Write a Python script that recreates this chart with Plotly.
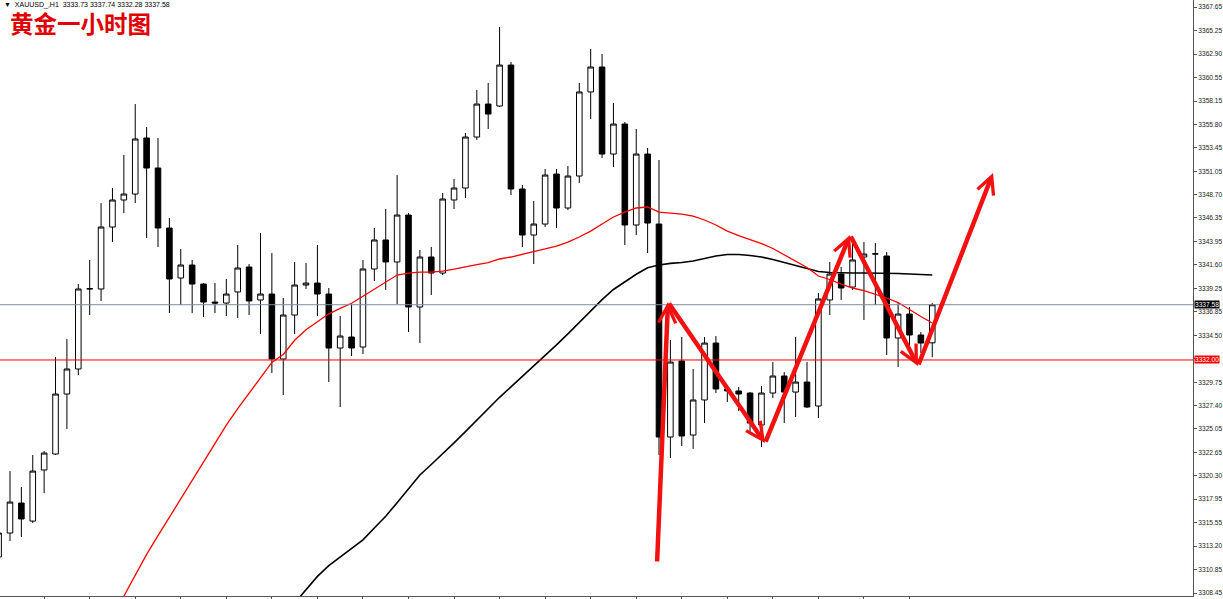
import plotly.graph_objects as go

# ---------------- data ----------------
idx = list(range(83))
open_ = [3312.10, 3314.52, 3317.55, 3315.73, 3320.89, 3322.50, 3328.56, 3331.09, 3339.17, 3339.17,
         3345.43, 3348.16, 3348.76, 3354.42, 3351.39, 3345.33, 3340.28, 3341.59, 3339.67, 3337.85,
         3337.75, 3338.87, 3341.39, 3338.06, 3338.66, 3332.10, 3336.54, 3339.57, 3339.77, 3338.66,
         3333.21, 3334.32, 3333.31, 3341.19, 3344.12, 3341.90, 3346.64, 3337.35, 3342.40, 3340.78,
         3348.16, 3349.37, 3354.52, 3357.85, 3357.65, 3361.79, 3349.27, 3344.62, 3345.73, 3350.78,
         3347.35, 3350.58, 3359.07, 3361.59, 3352.80, 3355.83, 3345.63, 3352.80, 3345.73, 3324.22,
         3331.90, 3324.42, 3327.96, 3333.71, 3329.07, 3328.87, 3328.66, 3325.43, 3328.66, 3330.38,
         3328.76, 3329.77, 3327.35, 3338.06, 3340.68, 3339.37, 3342.40, 3342.70, 3342.50, 3334.22,
         3336.64, 3334.52, 3333.73]
high = [3314.72, 3320.78, 3319.17, 3322.40, 3322.80, 3332.30, 3334.12, 3339.67, 3342.10, 3347.85,
        3349.37, 3352.70, 3357.85, 3355.53, 3354.42, 3346.34, 3343.21, 3342.10, 3339.77, 3339.77,
        3340.18, 3343.61, 3341.69, 3344.82, 3342.80, 3338.26, 3341.90, 3341.80, 3343.61, 3339.27,
        3336.44, 3337.65, 3342.10, 3345.33, 3347.25, 3350.68, 3346.84, 3343.11, 3343.41, 3348.87,
        3350.28, 3354.93, 3359.27, 3359.98, 3365.63, 3362.10, 3349.67, 3348.06, 3351.29, 3351.29,
        3351.59, 3359.98, 3363.41, 3362.91, 3357.96, 3356.04, 3355.33, 3353.41, 3352.20, 3334.02,
        3334.32, 3331.09, 3334.32, 3334.42, 3329.47, 3329.27, 3328.76, 3329.37, 3331.79, 3330.78,
        3334.32, 3331.79, 3338.76, 3341.90, 3341.39, 3344.32, 3343.92, 3343.81, 3342.91, 3337.75,
        3337.35, 3334.82, 3337.74]
low = [3311.79, 3313.71, 3314.12, 3315.53, 3318.56, 3322.40, 3325.03, 3330.48, 3336.54, 3337.96,
       3343.92, 3346.84, 3347.85, 3344.32, 3343.41, 3336.74, 3337.55, 3336.74, 3336.34, 3336.74,
       3336.44, 3336.24, 3336.54, 3334.62, 3330.68, 3328.46, 3334.62, 3339.17, 3336.44, 3329.77,
       3327.25, 3332.40, 3332.60, 3339.98, 3339.07, 3337.65, 3334.82, 3333.71, 3338.56, 3340.58,
       3347.25, 3348.36, 3354.22, 3355.33, 3357.55, 3348.66, 3343.41, 3341.69, 3345.43, 3345.33,
       3347.15, 3349.88, 3356.34, 3352.40, 3351.49, 3343.61, 3344.62, 3342.80, 3322.40, 3322.10,
       3323.31, 3323.01, 3325.63, 3328.66, 3327.75, 3326.84, 3324.62, 3323.21, 3328.16, 3325.63,
       3326.24, 3327.15, 3326.14, 3336.54, 3338.06, 3339.07, 3336.04, 3337.55, 3332.50, 3331.29,
       3332.80, 3332.70, 3332.28]
close = [3314.52, 3317.65, 3315.94, 3320.78, 3322.60, 3328.56, 3331.09, 3339.17, 3339.20, 3345.43,
         3348.16, 3348.76, 3354.32, 3351.39, 3345.33, 3340.18, 3341.59, 3339.67, 3337.85, 3337.75,
         3338.66, 3341.29, 3337.96, 3338.66, 3332.10, 3336.54, 3339.57, 3339.77, 3338.66, 3333.21,
         3334.42, 3333.21, 3341.19, 3344.12, 3341.90, 3346.64, 3337.35, 3342.40, 3340.78, 3348.26,
         3349.37, 3354.52, 3357.85, 3356.84, 3361.79, 3349.27, 3344.62, 3345.73, 3350.68, 3347.35,
         3350.58, 3359.07, 3361.59, 3352.80, 3355.83, 3345.63, 3352.80, 3345.83, 3324.22, 3331.79,
         3324.32, 3327.96, 3333.71, 3329.07, 3328.87, 3328.56, 3325.63, 3328.66, 3330.38, 3328.76,
         3329.77, 3327.25, 3338.16, 3340.68, 3339.27, 3342.10, 3342.70, 3342.72, 3334.22, 3336.64,
         3334.52, 3333.71, 3337.58]

ma_red_idx = list(range(10, 83))
ma_red = [3306.03, 3308.16, 3310.32, 3312.37, 3314.25, 3316.11, 3317.97, 3319.84, 3321.71, 3323.57,
          3325.42, 3327.09, 3328.66, 3330.15, 3331.75, 3332.55, 3333.99, 3335.05, 3335.84, 3336.66,
          3337.21, 3337.73, 3338.44, 3339.16, 3339.87, 3340.58, 3340.78, 3340.88, 3340.88, 3340.98,
          3341.18, 3341.44, 3341.64, 3341.84, 3342.20, 3342.40, 3342.65, 3342.95, 3343.21, 3343.51,
          3343.91, 3344.42, 3345.02, 3345.73, 3346.44, 3346.94, 3347.35, 3347.45, 3346.94, 3346.84,
          3346.74, 3346.54, 3346.14, 3345.63, 3345.02, 3344.57, 3344.17, 3343.76, 3343.26, 3342.60,
          3341.94, 3341.34, 3340.48, 3340.13, 3339.67, 3339.27, 3339.01, 3338.66, 3338.26, 3337.80,
          3337.05, 3336.39, 3335.73]
ma_black_idx = list(range(26, 83))
ma_black = [3307.45, 3308.78, 3310.14, 3311.22, 3312.07, 3312.91, 3313.83, 3315.03, 3316.22, 3317.59,
            3318.99, 3320.38, 3321.44, 3322.50, 3323.62, 3324.77, 3325.93, 3327.08, 3328.23, 3329.28,
            3330.33, 3331.39, 3332.41, 3333.53, 3334.64, 3335.80, 3337.02, 3338.09, 3339.12, 3339.93,
            3340.66, 3341.31, 3341.59, 3341.76, 3341.84, 3342.00, 3342.25, 3342.50, 3342.65, 3342.65,
            3342.55, 3342.40, 3342.15, 3341.84, 3341.59, 3341.29, 3340.94, 3340.83, 3340.78, 3340.78,
            3340.78, 3340.78, 3340.78, 3340.73, 3340.68, 3340.63, 3340.58]

last_price = 3337.58
level_price = 3332.00

arrow_x = [57.83, 58.79, 67.31, 74.78, 80.75, 87.34]
arrow_y = [3311.49, 3337.85, 3323.61, 3344.62, 3331.39, 3350.89]

ytick_vals = [3367.65, 3365.25, 3362.90, 3360.55, 3358.15, 3355.80, 3353.45, 3351.05, 3348.70,
              3346.35, 3343.95, 3341.60, 3339.25, 3336.85, 3334.50, 3332.15, 3329.75, 3327.40,
              3325.05, 3322.65, 3320.30, 3317.95, 3315.55, 3313.20, 3310.85, 3308.45]
ytick_text = ["" if v == 3332.15 else f"{v:.2f}" for v in ytick_vals]
xtick_vals = list(range(4, 83, 4))

header = "▼  XAUUSD_,H1  3333.73 3337.74 3332.28 3337.58"
title_cn = "黄金一小时图"

# ---------------- figure ----------------
fig = go.Figure()

fig.add_trace(go.Scatter(x=ma_black_idx, y=ma_black, mode="lines",
                         line=dict(color="black", width=1.6), hoverinfo="skip"))
fig.add_trace(go.Scatter(x=ma_red_idx, y=ma_red, mode="lines",
                         line=dict(color="#ff0000", width=1.3), hoverinfo="skip"))

fig.add_hline(y=last_price, line=dict(color="#7d8c99", width=1))
fig.add_hline(y=level_price, line=dict(color="#ff0000", width=1))

fig.add_trace(go.Candlestick(
    x=idx, open=open_, high=high, low=low, close=close,
    increasing=dict(line=dict(color="black", width=1), fillcolor="white"),
    decreasing=dict(line=dict(color="black", width=1), fillcolor="black"),
    whiskerwidth=0, hoverinfo="skip"))

# hand-drawn red arrows
for i in range(len(arrow_x) - 1):
    fig.add_annotation(x=arrow_x[i + 1], y=arrow_y[i + 1], ax=arrow_x[i], ay=arrow_y[i],
                       xref="x", yref="y", axref="x", ayref="y", text="",
                       showarrow=True, arrowhead=5, arrowsize=0.75, arrowwidth=4.5,
                       arrowcolor="#f21010", standoff=0, startstandoff=0)

# price boxes on the axis
fig.add_annotation(x=1, xref="paper", xanchor="left", xshift=1, y=last_price, yref="y",
                   text=f"{last_price:.2f}", showarrow=False, bgcolor="black",
                   font=dict(color="white", size=6.6, family="Liberation Sans"), borderpad=0)
fig.add_annotation(x=1, xref="paper", xanchor="left", xshift=1, y=level_price, yref="y",
                   text=f"{level_price:.2f}", showarrow=False, bgcolor="#ff0000",
                   font=dict(color="white", size=6.6, family="Liberation Sans"), borderpad=0)

# header texts
fig.add_annotation(x=0.002, y=1, xref="paper", yref="paper", xanchor="left", yanchor="top",
                   yshift=1, text=header, showarrow=False,
                   font=dict(color="black", size=7, family="Liberation Sans"))
fig.add_annotation(x=0.0068, y=0.994, xref="paper", yref="paper", xanchor="left", yanchor="top",
                   text=f"<b>{title_cn}</b>", showarrow=False,
                   font=dict(color="#e00000", size=23.5, family="Noto Sans CJK SC"))

fig.update_layout(
    width=1223, height=599,
    margin=dict(l=0, r=30, t=0, b=3),
    paper_bgcolor="white", plot_bgcolor="white",
    showlegend=False, hovermode=False,
    xaxis=dict(range=[0.123, 104.9], rangeslider=dict(visible=False), showgrid=False,
               zeroline=False, showline=True, linecolor="#555555", linewidth=1,
               ticks="outside", ticklen=3, tickcolor="#555555", tickvals=xtick_vals,
               showticklabels=False, automargin=False),
    yaxis=dict(range=[3308.16, 3368.36], side="right", showgrid=False, zeroline=False,
               showline=True, linecolor="#555555", linewidth=1, ticks="outside", ticklen=3,
               tickcolor="#555555", tickvals=ytick_vals, ticktext=ytick_text,
               tickfont=dict(size=6.6, color="#222222", family="Liberation Sans"),
               automargin=False),
)

fig.write_html("out.html", config={"displayModeBar": False},
               post_script="document.body.style.margin='0';document.body.style.overflow='hidden';")
